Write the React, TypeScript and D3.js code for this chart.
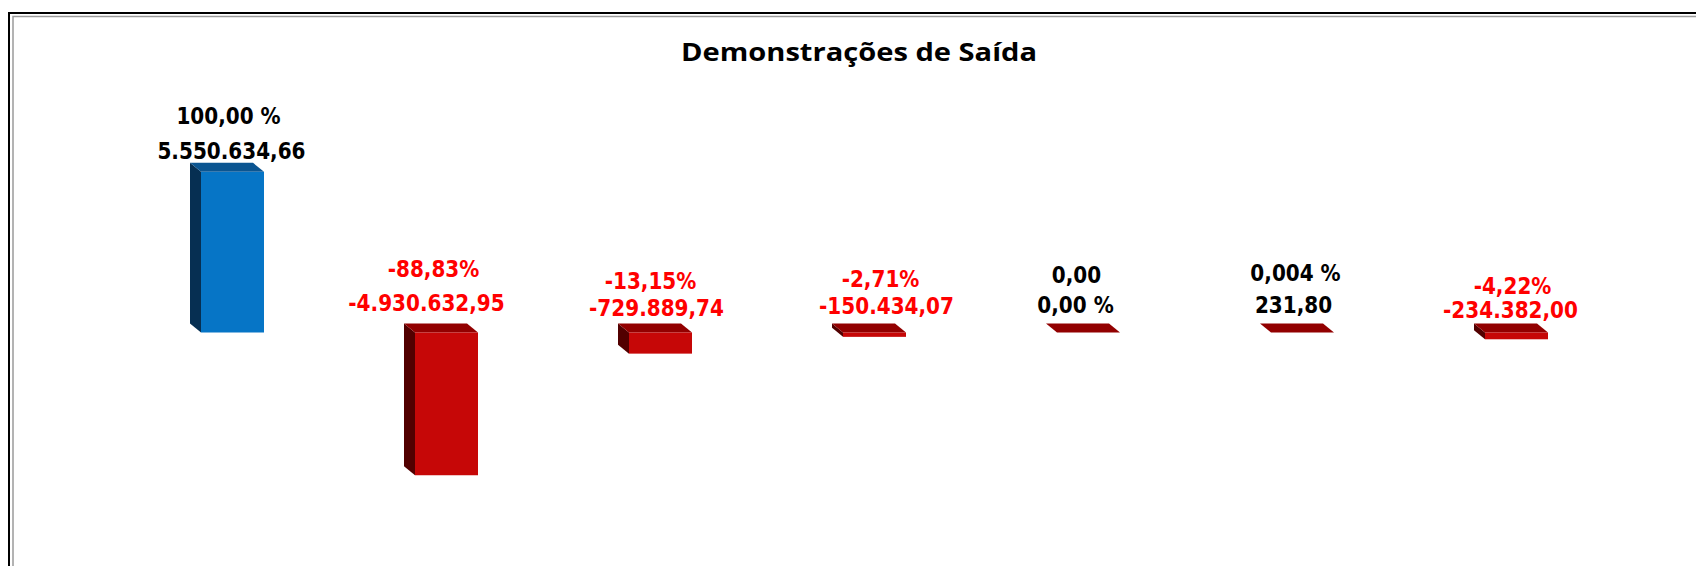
import React, { useEffect } from 'react'
import * as d3 from 'd3'

// chart data
const categories = ['Receita', 'Custos', 'Despesas', 'Impostos', 'Outras', 'Financeiro', 'Resultado']
const values = [5550634.66, -4930632.95, -729889.74, -150434.07, 0, 231.8, -234382.0]
const topLabels = ['100,00 %', '-88,83%', '-13,15%', '-2,71%', '0,00', '0,004 %', '-4,22%']
const bottomLabels = ['5.550.634,66', '-4.930.632,95', '-729.889,74', '-150.434,07', '0,00 %', '231,80', '-234.382,00']
const title = 'Demonstrações de Saída'

// label placement (hand tuned like the excel original): [dx top, dy top, dx bottom, dy bottom]
const labelNudge = [
  [-4, -39, -1, -4],
  [-13, -47, -20, -13],
  [-10, -35, -4, -8],
  [6, -37, 12, -10],
  [-12, -41, -13, -11],
  [-7, -42, -9, -10],
  [-4, -30, -6, -6],
]

const W = 1696
const H = 566
const barW = 63
const depthX = 11
const depthY = 9

const faces = {
  blue: { front: '#0675c6', top: '#0b5591', side: '#062f52' },
  red: { front: '#c60707', top: '#920000', side: '#520000' },
}

const Label = ({ x, y, text, color }: { x: number; y: number; text: string; color: string }) => (
  <text
    transform={`translate(${x},${y}) scale(0.89,1)`}
    textAnchor="middle"
    fontFamily="'DejaVu Sans', sans-serif"
    fontWeight={700}
    fontSize={22.5}
    fill={color}
  >
    {text}
  </text>
)

export default function App() {
  useEffect(() => {
    document.body.style.margin = '0'
  }, [])

  const x = d3.scalePoint().domain(categories).range([232.5, 1516.5])
  const y = d3.scaleLinear().domain([-6000000, 6000000]).range([506.2, 158.8])
  const y0 = y(0)

  return (
    <svg width={W} height={H} style={{ display: 'block', background: '#fff' }}>
      {/* frame, cut by the window on the right and bottom */}
      <rect x={9} y={13} width={W + 20} height={H + 20} fill="none" stroke="#000" strokeWidth={2} />
      <rect x={13} y={16.5} width={W + 20} height={H + 20} fill="none" stroke="#9a9a9a" strokeWidth={1.5} />

      <text
        x={859}
        y={61}
        textAnchor="middle"
        textLength={356}
        lengthAdjust="spacingAndGlyphs"
        fontFamily="'Open Sans', sans-serif"
        fontWeight={700}
        fontSize={25}
        fill="#000"
      >
        {title}
      </text>

      {categories.map((c, i) => {
        const v = values[i]
        const cx = x(c) as number
        const x0 = cx - barW / 2
        const x1 = cx + barW / 2
        const yv = y(v)
        const top = Math.min(yv, y0)
        const bot = Math.max(yv, y0)
        const col = i === 0 ? faces.blue : faces.red
        const labCol = v < 0 ? '#ff0000' : '#000'
        const back = top - depthY
        const n = labelNudge[i]
        return (
          <g key={c}>
            <polygon
              points={`${x0 - depthX},${back} ${x0},${top} ${x0},${bot} ${x0 - depthX},${bot - depthY}`}
              fill={col.side}
            />
            <polygon
              points={`${x0 - depthX},${back} ${x1 - depthX},${back} ${x1},${top} ${x0},${top}`}
              fill={col.top}
            />
            {bot - top > 0.5 && <rect x={x0} y={top} width={barW} height={bot - top} fill={col.front} />}
            <Label x={cx + n[0]} y={back + n[1]} text={topLabels[i]} color={labCol} />
            <Label x={cx + n[2]} y={back + n[3]} text={bottomLabels[i]} color={labCol} />
          </g>
        )
      })}
    </svg>
  )
}
